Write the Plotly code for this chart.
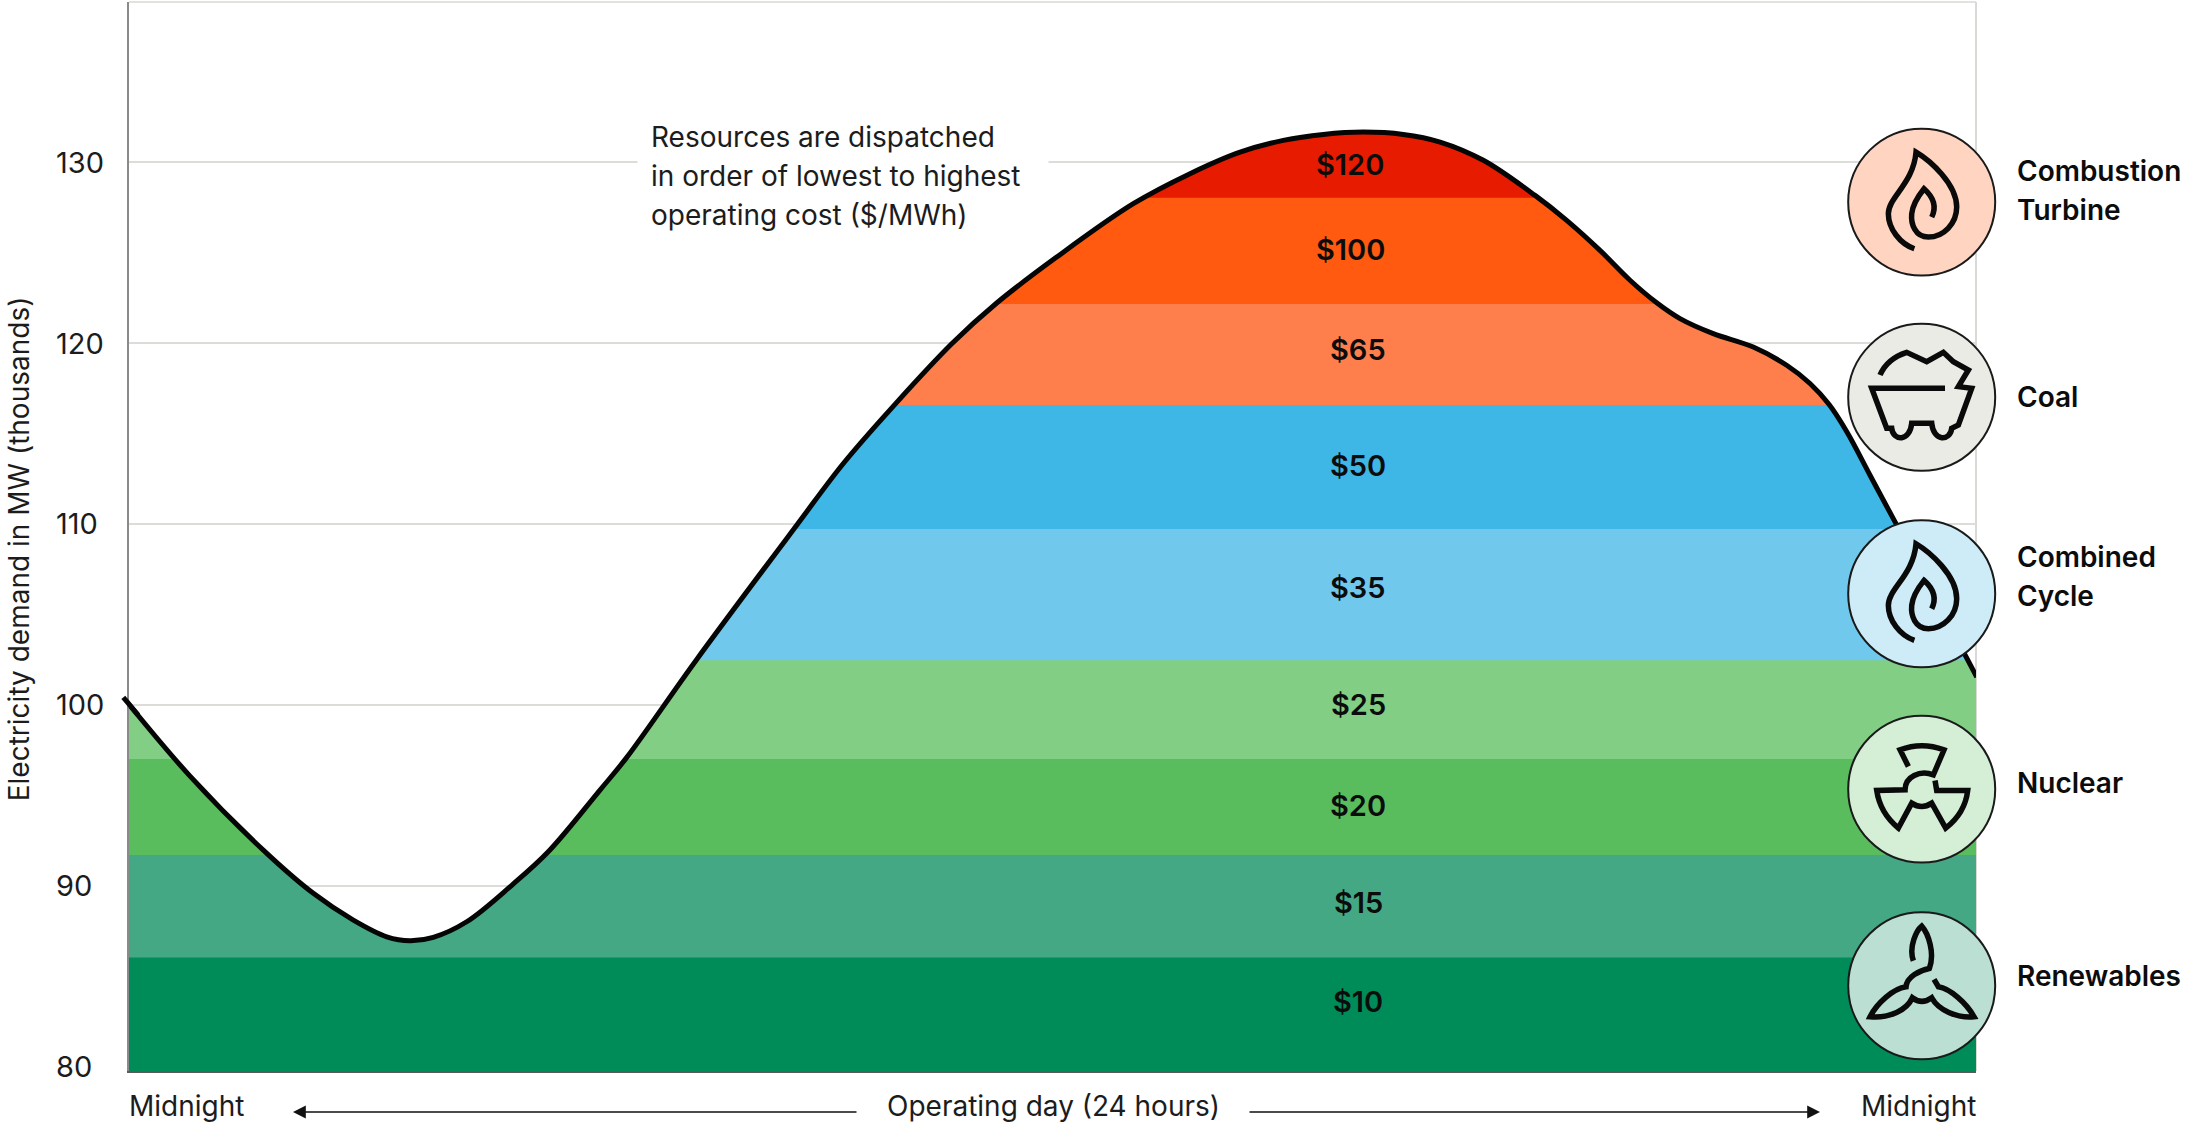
import plotly.graph_objects as go

# Demand curve over the operating day: hour of day, MW in thousands
hours = [-0.074, 0.793, 1.745, 2.395, 2.915, 3.349, 3.651, 3.954, 4.388, 4.977, 5.457, 6.120,
         6.458, 7.377, 8.676, 9.282, 9.953, 10.694, 11.275, 12.054, 13.050, 13.787, 14.437,
         14.999, 15.519, 16.039, 16.558, 17.036, 17.598, 18.270, 18.681, 19.114, 19.504, 19.855,
         20.154, 20.586, 21.106, 21.540, 21.843, 22.089, 22.323, 22.623, 22.948, 24.010]
demand = [100.41, 96.06, 91.97, 89.58, 88.10, 87.18, 86.96, 87.15, 88.01, 90.04, 91.92, 95.29,
          97.04, 102.51, 109.93, 113.34, 116.61, 119.97, 122.21, 124.75, 127.70, 129.36, 130.55,
          131.20, 131.53, 131.66, 131.53, 131.11, 130.10, 128.16, 126.78, 125.12, 123.47, 122.21,
          121.35, 120.52, 119.78, 118.77, 117.76, 116.61, 115.08, 112.69, 110.11, 101.53]

# Supply stack, most expensive first; each band's upper limit on the demand axis
band_tops = [140.0, 128.03, 122.15, 116.57, 109.72, 102.47, 97.0, 91.7, 86.04]
band_colors = ["#E61B00", "#FF5A10", "#FF7F4C", "#3EB6E6", "#70C8EC", "#82CE84", "#59BD5E", "#44A884", "#008C59"]
prices = ["$120", "$100", "$65", "$50", "$35", "$25", "$20", "$15", "$10"]
price_levels = [129.89, 125.19, 119.65, 113.25, 106.47, 100.0, 94.45, 89.06, 83.59]
price_hours = [15.87, 15.87, 15.97, 15.97, 15.97, 15.97, 15.97, 15.97, 15.97]

y_ticks = [80, 90, 100, 110, 120, 130]

resources = ["Combustion<br>Turbine", "Coal", "Combined<br>Cycle", "Nuclear", "Renewables"]
resource_fills = ["#FFD5C2", "#EBEBE6", "#CEECF8", "#D5EED6", "#BBE0D3"]
note_lines = ["Resources are dispatched", "in order of lowest to highest", "operating cost ($/MWh)"]

# Plot frame in page pixels
LEFT, RIGHT, TOP, BOTTOM = 129.0, 1976.0, 1.5, 1071.0
Y_MIN, Y_MAX = 79.76, 138.85
X_MAX = 24
FONT = "Inter"
INK = "#1c1c1c"
TEXT_SIZE = 28
CURVE_WIDTH = 5


def px(x):
    return (x - LEFT) / (RIGHT - LEFT)


def py(y):
    return (BOTTOM - y) / (BOTTOM - TOP)


def clip_to(top):
    """Demand curve capped at a level, with exact crossing points added."""
    xs, ys = [], []
    for i, (x, y) in enumerate(zip(hours, demand)):
        if i:
            x0, y0 = hours[i - 1], demand[i - 1]
            if (y0 - top) * (y - top) < 0:
                xs.append(x0 + (top - y0) / (y - y0) * (x - x0))
                ys.append(top)
        xs.append(x)
        ys.append(min(y, top))
    return xs, ys


fig = go.Figure()

# Bands are painted from the top down, each one reaching the axis floor
for top, color in zip(band_tops, band_colors):
    xs, ys = clip_to(top)
    fig.add_trace(go.Scatter(
        x=[xs[0]] + xs + [xs[-1]],
        y=[Y_MIN] + ys + [Y_MIN],
        mode="lines", line=dict(width=0), fill="toself", fillcolor=color,
        hoverinfo="skip", showlegend=False,
    ))

fig.add_trace(go.Scatter(
    x=hours, y=demand, mode="lines",
    line=dict(color="#050505", width=CURVE_WIDTH, shape="spline", smoothing=1.0),
    hoverinfo="skip", showlegend=False,
))

annotations = []


def page_text(x, y, text, size=TEXT_SIZE, anchor="left", weight=400, color=INK, angle=0):
    annotations.append(dict(
        xref="paper", yref="paper", x=px(x), y=py(y), text=text, showarrow=False,
        xanchor=anchor, yanchor="middle", align="left", textangle=angle,
        font=dict(family=FONT, size=size, color=color, weight=weight),
    ))


# Price labels sit on the data scales
for hour, level, label in zip(price_hours, price_levels, prices):
    annotations.append(dict(
        x=hour, y=level, text=label, showarrow=False, xanchor="center", yanchor="middle",
        font=dict(family=FONT, size=29, color="#0c0c0c", weight=600),
    ))

# Left-aligned tick labels
for tick in y_ticks:
    annotations.append(dict(
        xref="paper", x=px(54), y=tick, text=str(tick), showarrow=False,
        xanchor="left", yanchor="middle",
        font=dict(family=FONT, size=29, color=INK),
    ))

page_text(19, 549, "Electricity demand in MW (thousands)", anchor="center", angle=-90)
page_text(127, 1106, "Midnight")
page_text(1978, 1106, "Midnight", anchor="right")
page_text(1053, 1106, "Operating day (24 hours)", anchor="center")

# White patch that interrupts the 130 gridline behind the note
annotations.append(dict(
    xref="paper", yref="paper", x=px(637), y=py(176), text=" ", showarrow=False,
    xanchor="left", yanchor="middle", width=408, height=116, bgcolor="#ffffff",
))
for line_y, line in zip([137, 176, 215], note_lines):
    page_text(649, line_y, line)

# Timeline arrows running out from the centre caption
for start, end in [(858, 293), (1248, 1820)]:
    annotations.append(dict(
        xref="paper", yref="paper",
        x=px(end), y=py(1112), ax=start - end, ay=0, text="",
        showarrow=True, arrowhead=2, arrowsize=1.6, arrowwidth=1.6, arrowcolor="#111111",
    ))

# Resource glyphs, drawn in local units centred on each circle (3 units per pixel)
FLAME = [("M", 403, 445), ("C", 360, 430, 325, 385, 325, 340), ("C", 325, 290, 400, 250, 408, 155),
         ("C", 450, 180, 530, 250, 530, 320), ("C", 530, 370, 490, 410, 445, 410),
         ("C", 405, 410, 392, 370, 395, 340), ("C", 398, 310, 420, 280, 432, 265),
         ("C", 460, 290, 470, 320, 455, 350)]
COAL = [("M", 300, 825), ("C", 315, 790, 340, 770, 380, 757), ("L", 440, 785), ("L", 490, 757),
        ("L", 520, 785), ("L", 565, 810), ("L", 535, 860), ("L", 575, 865), ("L", 535, 975),
        ("L", 515, 985), ("C", 510, 1025, 460, 1025, 455, 970), ("L", 395, 970),
        ("C", 390, 1025, 340, 1025, 335, 985), ("L", 320, 985), ("L", 275, 865), ("L", 495, 865)]
NUCLEAR = [("M", 385, 440), ("L", 360, 390), ("Q", 425, 365, 492, 390), ("L", 460, 465),
           ("C", 420, 450, 375, 470, 375, 510), ("L", 290, 512), ("Q", 300, 580, 355, 625),
           ("L", 395, 550), ("Q", 425, 570, 455, 550), ("L", 497, 625), ("Q", 555, 580, 563, 512),
           ("L", 470, 512), ("L", 465, 482)]
ROTOR = [("M", 400, 1022), ("C", 385, 980, 410, 930, 425, 918), ("C", 445, 940, 465, 1000, 448, 1045),
         ("C", 420, 1050, 380, 1070, 378, 1100), ("C", 340, 1105, 290, 1150, 270, 1190),
         ("C", 330, 1195, 380, 1170, 397, 1133), ("Q", 425, 1155, 455, 1133),
         ("C", 475, 1170, 530, 1195, 582, 1190), ("C", 560, 1150, 510, 1105, 475, 1100),
         ("L", 462, 1078)]
glyphs = [(FLAME, 305), (COAL, 892), (FLAME, 305), (NUCLEAR, 508), (ROTOR, 1097)]

CENTER_X = 1921.7
center_ys = [201.7, 397.0, 593.5, 789.0, 985.7]
label_ys = [(171, 210), (397,), (557, 596), (783,), (976,)]
RADIUS = 73.5

# Short lead-in of the curve before the left axis, which the plot area would clip
lead_x = 0.12
lead_y = demand[0] + (lead_x - hours[0]) / (hours[1] - hours[0]) * (demand[1] - demand[0])

shapes = [
    dict(type="line", xref="paper", yref="paper", x0=1, x1=1, y0=0, y1=1,
         line=dict(color="#d9d9d5", width=2), layer="below"),
    dict(type="line", xref="paper", yref="paper", x0=0, x1=1, y0=1, y1=1,
         line=dict(color="#d9d9d5", width=1.5), layer="below"),
    dict(type="line", xref="paper", yref="paper",
         x0=hours[0] / X_MAX, y0=(demand[0] - Y_MIN) / (Y_MAX - Y_MIN),
         x1=lead_x / X_MAX, y1=(lead_y - Y_MIN) / (Y_MAX - Y_MIN),
         line=dict(color="#050505", width=CURVE_WIDTH)),
]


def glyph_path(commands, local_cy, cy):
    parts = []
    for command in commands:
        coords = command[1:]
        pairs = []
        for i in range(0, len(coords), 2):
            gx = CENTER_X + (coords[i] - 425) / 3
            gy = cy + (coords[i + 1] - local_cy) / 3
            pairs.append(f"{px(gx):.5f},{py(gy):.5f}")
        parts.append(command[0] + " ".join(pairs))
    return " ".join(parts)


for fill, cy, (commands, local_cy), name, ys in zip(resource_fills, center_ys, glyphs, resources, label_ys):
    shapes.append(dict(
        type="circle", xref="paper", yref="paper",
        x0=px(CENTER_X - RADIUS), x1=px(CENTER_X + RADIUS),
        y0=py(cy + RADIUS), y1=py(cy - RADIUS),
        fillcolor=fill, line=dict(color="#1a1a1a", width=2),
    ))
    shapes.append(dict(
        type="path", xref="paper", yref="paper", path=glyph_path(commands, local_cy, cy),
        line=dict(color="#0a0a0a", width=5.5),
    ))
    for line_y, line in zip(ys, name.split("<br>")):
        page_text(2014.5, line_y, line, weight=600, color="#0c0c0c")

fig.update_layout(
    width=2190, height=1124,
    margin=dict(l=LEFT, r=2190 - RIGHT, t=TOP, b=1124 - BOTTOM, pad=0),
    paper_bgcolor="#ffffff", plot_bgcolor="#ffffff",
    showlegend=False, annotations=annotations, shapes=shapes,
    font=dict(family=FONT, size=TEXT_SIZE, color=INK),
    xaxis=dict(range=[0, X_MAX], showgrid=False, zeroline=False, showticklabels=False, ticks="",
               showline=True, linecolor="#5a5a5a", linewidth=1.5),
    yaxis=dict(range=[Y_MIN, Y_MAX], tickvals=y_ticks, showticklabels=False, ticks="",
               showgrid=True, gridcolor="#dcdcd8", gridwidth=1.5, zeroline=False,
               showline=True, linecolor="#8a8a8a", linewidth=1.5),
)

fig.write_html("out.html")
